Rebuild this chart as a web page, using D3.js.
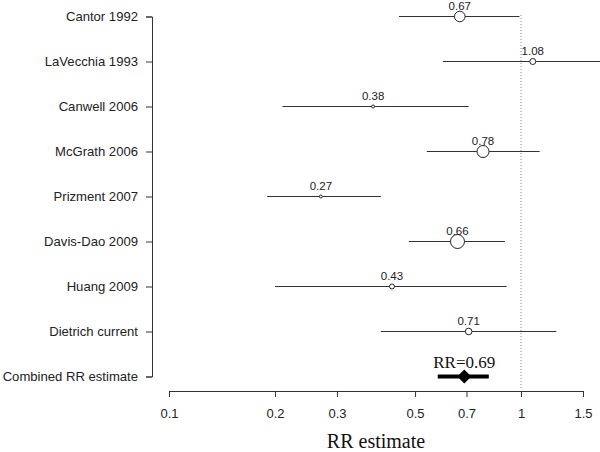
<!DOCTYPE html>
<html>
<head>
<meta charset="utf-8">
<script src="https://cdn.jsdelivr.net/npm/d3@7"></script>
<style>
  body { margin: 0; background: #fff; }
  svg { display: block; }
</style>
</head>
<body>
<div id="vis"></div>
<script>
// frame
const FRAME_WIDTH = 600;
const FRAME_HEIGHT = 452;

// data
const studies = ["Cantor 1992", "LaVecchia 1993", "Canwell 2006", "McGrath 2006",
                 "Prizment 2007", "Davis-Dao 2009", "Huang 2009", "Dietrich current"];
const rr      = [0.67, 1.08, 0.38, 0.78, 0.27, 0.66, 0.43, 0.71];
const lower   = [0.45, 0.60, 0.21, 0.54, 0.19, 0.48, 0.20, 0.40];
const upper   = [0.99, 1.70, 0.71, 1.13, 0.40, 0.90, 0.91, 1.26];
const weights = [28, 9, 2.2, 36, 2.2, 49, 6.3, 11];

const combinedLabel = "Combined RR estimate";
const combinedRR = 0.69;
const combinedLower = 0.58;
const combinedUpper = 0.81;

const xTicks = [0.1, 0.2, 0.3, 0.5, 0.7, 1, 1.5];

const rowLabels = studies.concat([combinedLabel]);

const svg = d3.select("#vis").append("svg")
  .attr("width", FRAME_WIDTH)
  .attr("height", FRAME_HEIGHT);

// scales
const X_SCALE = d3.scaleLog().domain([0.1, 1.5]).range([169, 583]);
const Y_SCALE = d3.scalePoint().domain(rowLabels).range([16.5, 376.5]);
const R_SCALE = d3.scaleSqrt().domain([0, d3.max(weights)]).range([0, 7]);

// reference line at RR = 1
svg.append("line")
  .attr("x1", X_SCALE(1)).attr("x2", X_SCALE(1))
  .attr("y1", 15).attr("y2", 388)
  .attr("stroke", "#888")
  .attr("stroke-width", 1)
  .attr("stroke-dasharray", "1,2");

// x axis
const xAxis = svg.append("g")
  .attr("transform", "translate(0,391)")
  .call(d3.axisBottom(X_SCALE).tickValues(xTicks).tickFormat(d3.format("")).tickSize(6).tickPadding(12));
xAxis.selectAll("path, line").attr("stroke", "#333");
xAxis.selectAll("text").attr("font-family", "Liberation Sans, Arial, sans-serif")
  .attr("font-size", 13).attr("fill", "#222");

// y axis
const yAxis = svg.append("g")
  .attr("transform", "translate(152,0)")
  .call(d3.axisLeft(Y_SCALE).tickSize(6).tickPadding(8));
yAxis.selectAll("path, line").attr("stroke", "#333");
yAxis.selectAll("text").attr("font-family", "Liberation Sans, Arial, sans-serif")
  .attr("font-size", 13.1).attr("fill", "#222");

// x title
svg.append("text")
  .attr("x", 376).attr("y", 448)
  .attr("text-anchor", "middle")
  .attr("font-family", "Liberation Serif, Times New Roman, serif")
  .attr("font-size", 20)
  .attr("fill", "#111")
  .text("RR estimate");

// study rows
const rows = svg.selectAll(".study")
  .data(studies)
  .enter()
  .append("g")
    .attr("class", "study");

rows.append("line")
  .attr("x1", (d, i) => X_SCALE(lower[i]))
  .attr("x2", (d, i) => X_SCALE(upper[i]))
  .attr("y1", d => Y_SCALE(d))
  .attr("y2", d => Y_SCALE(d))
  .attr("stroke", "#333")
  .attr("stroke-width", 1);

rows.append("circle")
  .attr("cx", (d, i) => X_SCALE(rr[i]))
  .attr("cy", d => Y_SCALE(d))
  .attr("r", (d, i) => R_SCALE(weights[i]))
  .attr("fill", "#fff")
  .attr("stroke", "#222")
  .attr("stroke-width", 1);

rows.append("text")
  .attr("x", (d, i) => X_SCALE(rr[i]))
  .attr("y", d => Y_SCALE(d) - 7)
  .attr("text-anchor", "middle")
  .attr("font-family", "Liberation Sans, Arial, sans-serif")
  .attr("font-size", 11.5)
  .attr("fill", "#222")
  .text((d, i) => d3.format(".2f")(rr[i]));

// combined estimate
const cy = Y_SCALE(combinedLabel);
svg.append("line")
  .attr("x1", X_SCALE(combinedLower)).attr("x2", X_SCALE(combinedUpper))
  .attr("y1", cy).attr("y2", cy)
  .attr("stroke", "#000")
  .attr("stroke-width", 4);

const cx = X_SCALE(combinedRR);
svg.append("path")
  .attr("d", `M${cx - 7},${cy} L${cx},${cy - 7} L${cx + 7},${cy} L${cx},${cy + 7} Z`)
  .attr("fill", "#000");

svg.append("text")
  .attr("x", cx).attr("y", cy - 9)
  .attr("text-anchor", "middle")
  .attr("font-family", "Liberation Serif, Times New Roman, serif")
  .attr("font-size", 17)
  .attr("fill", "#111")
  .text("RR=" + combinedRR);
</script>
</body>
</html>
